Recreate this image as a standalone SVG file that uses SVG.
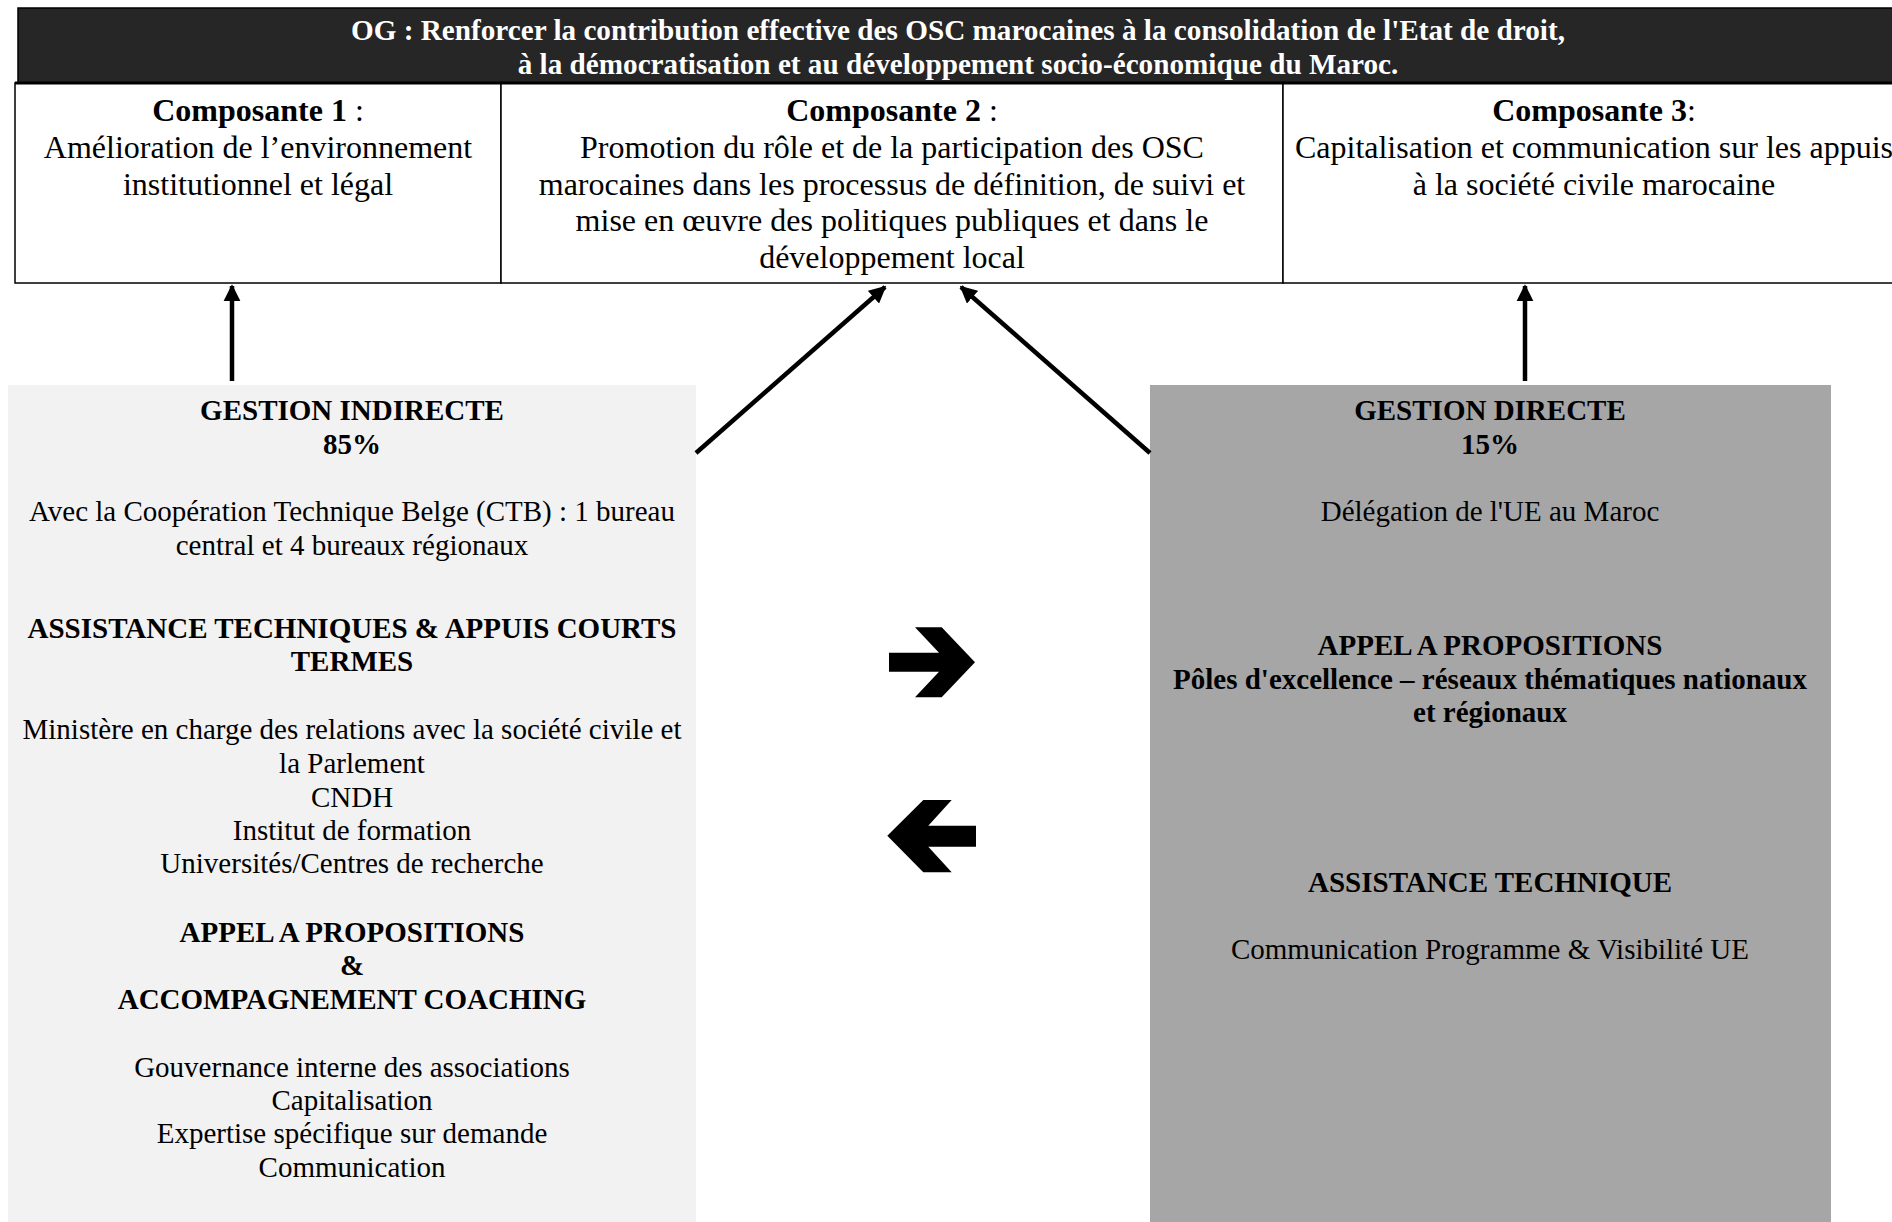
<svg xmlns="http://www.w3.org/2000/svg" width="1892" height="1222" viewBox="0 0 1892 1222">
  <style>
    text { font-family: "Liberation Serif", "Times New Roman", serif; fill: #000; text-anchor: middle; }
    .hdr { font-size: 29.2px; font-weight: bold; fill: #ffffff; }
    .comp { font-size: 32px; }
    .box { font-size: 29px; }
    .b { font-weight: bold; }
    .cell { fill: #ffffff; stroke: #000; stroke-width: 1.5; }
    .conn { stroke: #000; stroke-width: 4.5; fill: none; }
  </style>
  <defs>
    <marker id="ah" viewBox="0 0 10 10" refX="9" refY="5" markerWidth="3.8" markerHeight="3.8" markerUnits="strokeWidth" orient="auto">
      <path d="M0,0 L10,5 L0,10 z" fill="#000"/>
    </marker>
  </defs>
  <rect width="1892" height="1222" fill="#ffffff"/>

  <g id="og-header">
    <rect x="18" y="8" width="1880" height="75" fill="#262626" stroke="#000" stroke-width="1.5"/>
    <text class="hdr" x="958" y="40">OG : Renforcer la contribution effective des OSC marocaines à la consolidation de l'Etat de droit,</text>
    <text class="hdr" x="958" y="73.5">à la démocratisation et au développement socio-économique du Maroc.</text>
  </g>

  <g id="composante-1">
    <rect class="cell" x="15" y="83" width="486" height="200"/>
    <text class="comp" x="258" y="121"><tspan class="b">Composante 1</tspan> :</text>
    <text class="comp" x="258" y="158">Amélioration de l’environnement</text>
    <text class="comp" x="258" y="195">institutionnel et légal</text>
  </g>

  <g id="composante-2">
    <rect class="cell" x="501" y="83" width="782" height="200"/>
    <text class="comp" x="892" y="121"><tspan class="b">Composante 2</tspan> :</text>
    <text class="comp" x="892" y="158">Promotion du rôle et de la participation des OSC</text>
    <text class="comp" x="892" y="194.5">marocaines dans les processus de définition, de suivi et</text>
    <text class="comp" x="892" y="231">mise en œuvre des politiques publiques et dans le</text>
    <text class="comp" x="892" y="267.5">développement local</text>
  </g>

  <g id="composante-3">
    <rect class="cell" x="1283" y="83" width="622" height="200"/>
    <text class="comp" x="1594" y="121"><tspan class="b">Composante 3</tspan>:</text>
    <text class="comp" x="1594" y="158">Capitalisation et communication sur les appuis</text>
    <text class="comp" x="1594" y="195">à la société civile marocaine</text>
  </g>
  <line x1="15" y1="83" x2="1892" y2="83" stroke="#000" stroke-width="3"/>

  <g id="gestion-indirecte">
    <rect x="8" y="385" width="688" height="837" fill="#f2f2f2"/>
    <text class="box b" x="352" y="420">GESTION INDIRECTE</text>
    <text class="box b" x="352" y="453.5">85%</text>
    <text class="box" x="352" y="521">Avec la Coopération Technique Belge (CTB) : 1 bureau</text>
    <text class="box" x="352" y="555">central et 4 bureaux régionaux</text>
    <text class="box b" x="352" y="637.5">ASSISTANCE TECHNIQUES &amp; APPUIS COURTS</text>
    <text class="box b" x="352" y="671">TERMES</text>
    <text class="box" x="352" y="739">Ministère en charge des relations avec la société civile et</text>
    <text class="box" x="352" y="773">la Parlement</text>
    <text class="box" x="352" y="806.5">CNDH</text>
    <text class="box" x="352" y="840">Institut de formation</text>
    <text class="box" x="352" y="873">Universités/Centres de recherche</text>
    <text class="box b" x="352" y="941.5">APPEL A PROPOSITIONS</text>
    <text class="box b" x="352" y="975">&amp;</text>
    <text class="box b" x="352" y="1008.5">ACCOMPAGNEMENT COACHING</text>
    <text class="box" x="352" y="1076.5">Gouvernance interne des associations</text>
    <text class="box" x="352" y="1109.5">Capitalisation</text>
    <text class="box" x="352" y="1143">Expertise spécifique sur demande</text>
    <text class="box" x="352" y="1176.5">Communication</text>
  </g>

  <g id="gestion-directe">
    <rect x="1150" y="385" width="681" height="837" fill="#a6a6a6"/>
    <text class="box b" x="1490" y="420">GESTION DIRECTE</text>
    <text class="box b" x="1490" y="453.5">15%</text>
    <text class="box" x="1490" y="521">Délégation de l'UE au Maroc</text>
    <text class="box b" x="1490" y="655">APPEL A PROPOSITIONS</text>
    <text class="box b" x="1490" y="688.5">Pôles d'excellence – réseaux thématiques nationaux</text>
    <text class="box b" x="1490" y="722">et régionaux</text>
    <text class="box b" x="1490" y="891.5">ASSISTANCE TECHNIQUE</text>
    <text class="box" x="1490" y="959">Communication Programme &amp; Visibilité UE</text>
  </g>

  <g id="exchange-arrows">
    <polygon points="889,652.7 939,652.7 915,627.3 941.7,627.3 975,662.3 941.7,697.3 915,697.3 939,671.7 889,671.7" fill="#000"/>
    <polygon points="887.3,835.7 923.3,800 951.7,800 928.3,825.7 976,825.7 976,846.7 928.3,846.7 951.7,872.3 923.3,872.3" fill="#000"/>
  </g>

  <g id="connectors">
    <line class="conn" x1="232" y1="381" x2="232" y2="286" marker-end="url(#ah)"/>
    <line class="conn" x1="696" y1="453" x2="885" y2="287" marker-end="url(#ah)"/>
    <line class="conn" x1="1150" y1="453" x2="961" y2="287" marker-end="url(#ah)"/>
    <line class="conn" x1="1525" y1="381" x2="1525" y2="286" marker-end="url(#ah)"/>
  </g>
</svg>
